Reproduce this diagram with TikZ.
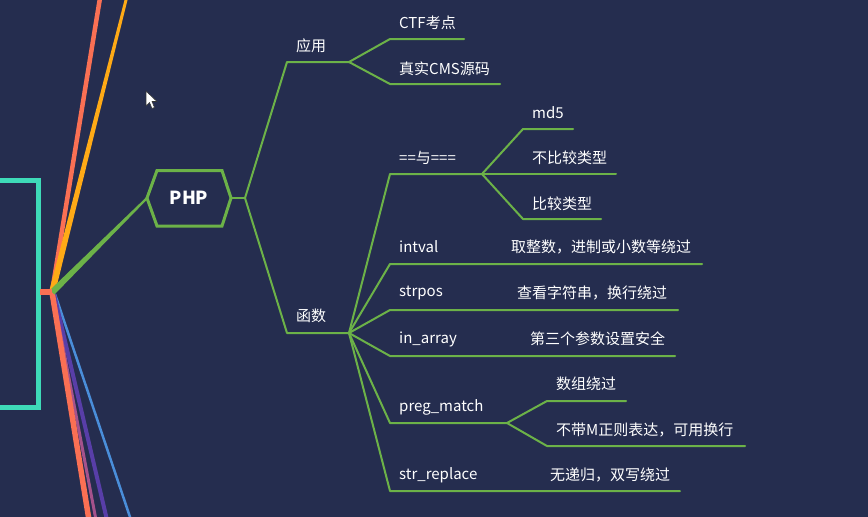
\documentclass[tikz,border=0pt]{standalone}
\usepackage{fontspec}
\setmainfont{Noto Sans CJK SC}
\definecolor{bg}{RGB}{37,45,79}
\definecolor{tealc}{RGB}{62,218,184}
\definecolor{mmgreen}{RGB}{108,178,72}
\definecolor{salmon}{RGB}{250,112,84}
\definecolor{orangec}{RGB}{255,170,22}
\definecolor{mauve}{RGB}{165,82,140}
\definecolor{indigoc}{RGB}{88,62,168}
\definecolor{bluec}{RGB}{74,142,218}
\begin{document}
\begin{tikzpicture}[x=1pt,y=-1pt,
  lbl/.style={anchor=west,inner sep=0pt,text=white,font=\fontsize{15}{18}\selectfont},
  br/.style={draw=mmgreen,line width=2pt,line join=round,line cap=round}]
\fill[bg] (0,0) rectangle (868,517);
\useasboundingbox (0,0) rectangle (868,517);
\clip (0,0) rectangle (868,517);

% teal root box (cut off at left)
\draw[tealc,line width=5pt] (-10,180.5) -- (38.5,180.5) -- (38.5,407.5) -- (-10,407.5);

% fan of main branches
\coordinate (O) at (52,292);
\coordinate (up1) at (100,-2);
\coordinate (dn1) at (89,520);
\coordinate (dn2) at (96,520);
\coordinate (dn3) at (107,520);
\coordinate (dn4) at (131,520);
\draw[salmon,line width=4.5pt] (O) -- (up1);
\fill[orangec] (49,292) -- (55.5,291) -- (128,-2) -- (125,-2) -- cycle;
\draw[bluec,line width=2.5pt] (O) ++(3,2) -- (dn4);
\draw[indigoc,line width=4pt] (O) ++(2,2) -- (dn3);
\draw[mauve,line width=3pt] (O) ++(1,2) -- (dn2);
\draw[salmon,line width=5.5pt] (O) -- (dn1);
\fill[mmgreen] (50,290) -- (54.5,294.5) -- (147.5,199) -- (146.5,197) -- cycle;
\draw[salmon,line width=6pt] (40,292) -- (O);

% PHP hexagon
\node[text=white,font=\fontsize{18}{20}\selectfont\bfseries,inner sep=0pt] (php) at (189,198) {PHP};
\draw[mmgreen,line width=3pt,line join=miter] (147,198) -- (157,170.5) -- (222,170.5) -- (231,198) -- (222,226) -- (157,226) -- cycle;
\coordinate (hr) at (231,198);
\coordinate (j0) at (245,198);
\draw[br] (hr) -- (j0);

% 应用
\coordinate (a0) at (287,62); \coordinate (j1) at (349,62);
\draw[br] (j0) -- (a0) -- (j1);
\node[lbl] (ying) at (296,46) {应用};
\draw[br] (j1) -- (390,39) -- (464,39);
\draw[br] (j1) -- (390,84) -- (500,84);
\node[lbl] (ctf) at (399,23) {CTF考点};
\node[lbl] (cms) at (399,69) {真实CMS源码};

% 函数
\coordinate (f0) at (287,333); \coordinate (j2) at (349,333);
\draw[br] (j0) -- (f0) -- (j2);
\node[lbl] (hanshu) at (296,316) {函数};

% ==与===
\coordinate (j3) at (482,174);
\draw[br] (j2) -- (390,174) -- (j3);
\node[lbl] (eq) at (399,158) {==与===};
\draw[br] (j3) -- (523,129) -- (573,129);
\draw[br] (j3) -- (616,174);
\draw[br] (j3) -- (523,219) -- (601,219);
\node[lbl] (md5) at (532,113) {md5};
\node[lbl] (nocmp) at (532,158) {不比较类型};
\node[lbl] (cmp) at (532,204) {比较类型};

% intval
\draw[br] (j2) -- (390,264) -- (702,264);
\node[lbl] (intval) at (399,247) {intval};
\node[lbl] (intvald) at (511,247) {取整数，进制或小数等绕过};

% strpos
\draw[br] (j2) -- (390,310) -- (678,310);
\node[lbl] (strpos) at (399,293) {strpos};
\node[lbl] (strposd) at (517,293) {查看字符串，换行绕过};

% in_array
\draw[br] (j2) -- (390,356) -- (675,356);
\node[lbl] (inarr) at (399,339) {in\_array};
\node[lbl] (inarrd) at (530,339) {第三个参数设置安全};

% preg_match
\coordinate (j4) at (507,423);
\draw[br] (j2) -- (390,423) -- (j4);
\node[lbl] (preg) at (399,407) {preg\_match};
\draw[br] (j4) -- (547,401) -- (626,401);
\draw[br] (j4) -- (547,446) -- (745,446);
\node[lbl] (pregd1) at (556,384) {数组绕过};
\node[lbl] (pregd2) at (556,430) {不带M正则表达，可用换行};

% str_replace
\draw[br] (j2) -- (390,491) -- (680,491);
\node[lbl] (strrep) at (399,475) {str\_replace};
\node[lbl] (strrepd) at (550,475) {无递归，双写绕过};

% mouse cursor
\filldraw[fill=white,draw=black!80,line width=0.6pt,line join=round]
  (146,91) -- (146,106) -- (149.5,102.5) -- (152,108.5) -- (154.5,107.5) -- (152,101.5) -- (157,101.5) -- cycle;
\end{tikzpicture}
\end{document}
